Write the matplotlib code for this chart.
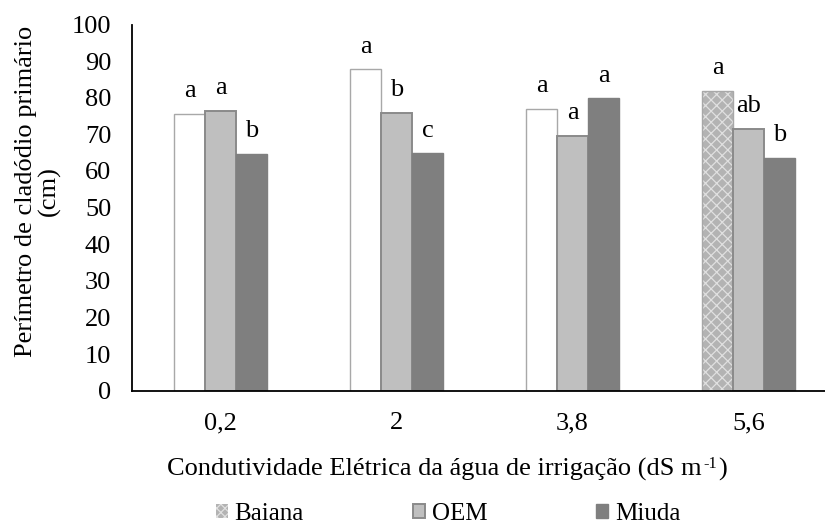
import matplotlib
matplotlib.use("Agg")
import matplotlib.pyplot as plt
import numpy as np
from matplotlib.patches import Patch

plt.rcParams['font.family'] = 'Liberation Serif'
plt.rcParams['hatch.linewidth'] = 0.9

# Data
categories = ["0,2", "2", "3,8", "5,6"]
series_names = ["Baiana", "OEM", "Miuda"]
baiana = [75.6, 87.8, 77.0, 81.8]
oem = [76.5, 75.9, 69.6, 71.5]
miuda = [64.6, 64.8, 79.8, 63.6]
letters_baiana = ["a", "a", "a", "a"]
letters_oem = ["a", "b", "a", "ab"]
letters_miuda = ["b", "c", "a", "b"]
yticks = [0, 10, 20, 30, 40, 50, 60, 70, 80, 90, 100]

W, H = 825, 532
fig = plt.figure(figsize=(W / 100, H / 100), dpi=100)
ax = fig.add_axes([132 / W, (H - 390.7) / H, (W - 132) / W, (390.7 - 24.5) / H])

x = np.arange(len(categories))
bw = 0.176
pattern_face = "#b3b3b3"
pattern_lines = "#e0e0e0"
pattern = "xxx"

# Baiana: white bars, the last one filled with a patterned gray
b_fill = ax.bar(x - bw, baiana, bw, color="white", edgecolor="white", linewidth=0)
b_fill.patches[-1].set_facecolor(pattern_face)
b_fill.patches[-1].set_hatch(pattern)
b_fill.patches[-1].set_edgecolor(pattern_lines)
ax.bar(x - bw, baiana, bw, fill=False, edgecolor="#a8a8a8", linewidth=1.0)
ax.bar(x, oem, bw, color="#bfbfbf", edgecolor="#8a8a8a", linewidth=1.4)
ax.bar(x + bw, miuda, bw, color="#7f7f7f", edgecolor="#7f7f7f", linewidth=1.0)

fs = 19
for offs, vals, labs in [(-bw, baiana, letters_baiana), (0, oem, letters_oem), (bw, miuda, letters_miuda)]:
    for xi, v, l in zip(x, vals, labs):
        ax.annotate(l, (xi + offs, v), xytext=(0, 12), textcoords="offset points",
                    ha="center", va="baseline", fontsize=fs)

ax.set_xlim(-0.503, 3.435)
ax.set_ylim(0, 100)
ax.set_yticks(yticks)
ax.set_xticks(x)
ax.set_xticklabels(categories)
ax.tick_params(axis="both", length=0, labelsize=fs)
ax.tick_params(axis="x", pad=15.5)
ax.tick_params(axis="y", pad=15)
for s in ["top", "right"]:
    ax.spines[s].set_visible(False)
for s in ["left", "bottom"]:
    ax.spines[s].set_color("black")
    ax.spines[s].set_linewidth(1.3)

fig.text(38 / W, 1 - 191 / H, "Perímetro de cladódio primário\n(cm)", rotation=90,
         ha="center", va="center", multialignment="center", fontsize=fs, linespacing=1.0)

# x-axis title with a raised "-1" unit exponent
yb = H - 476
xt = fig.text(167 / W, yb / H, "Condutividade Elétrica da água de irrigação (dS m",
              ha="left", va="baseline", fontsize=fs)
sup = ax.annotate("-1", xy=(1, yb + 8), xycoords=(xt, "figure pixels"), xytext=(1, 0),
                  textcoords="offset points", ha="left", va="baseline",
                  fontsize=fs * 0.62, annotation_clip=False)
ax.annotate(")", xy=(1, yb), xycoords=(sup, "figure pixels"), xytext=(1, 0),
            textcoords="offset points", ha="left", va="baseline", fontsize=fs,
            annotation_clip=False)

handles = [
    Patch(facecolor=pattern_face, edgecolor=pattern_lines, hatch="xxxx", linewidth=0),
    Patch(facecolor="#bfbfbf", edgecolor="#8a8a8a", linewidth=1.4),
    Patch(facecolor="#7f7f7f", edgecolor="#7f7f7f"),
]
fig.legend(handles, series_names, loc="center", bbox_to_anchor=(448 / W, 1 - 514 / H),
           ncol=3, frameon=False, fontsize=18, handlelength=0.48, handleheight=0.48,
           handletextpad=0.28, columnspacing=4.35, borderpad=0)

fig.savefig("out.png", dpi=100)
